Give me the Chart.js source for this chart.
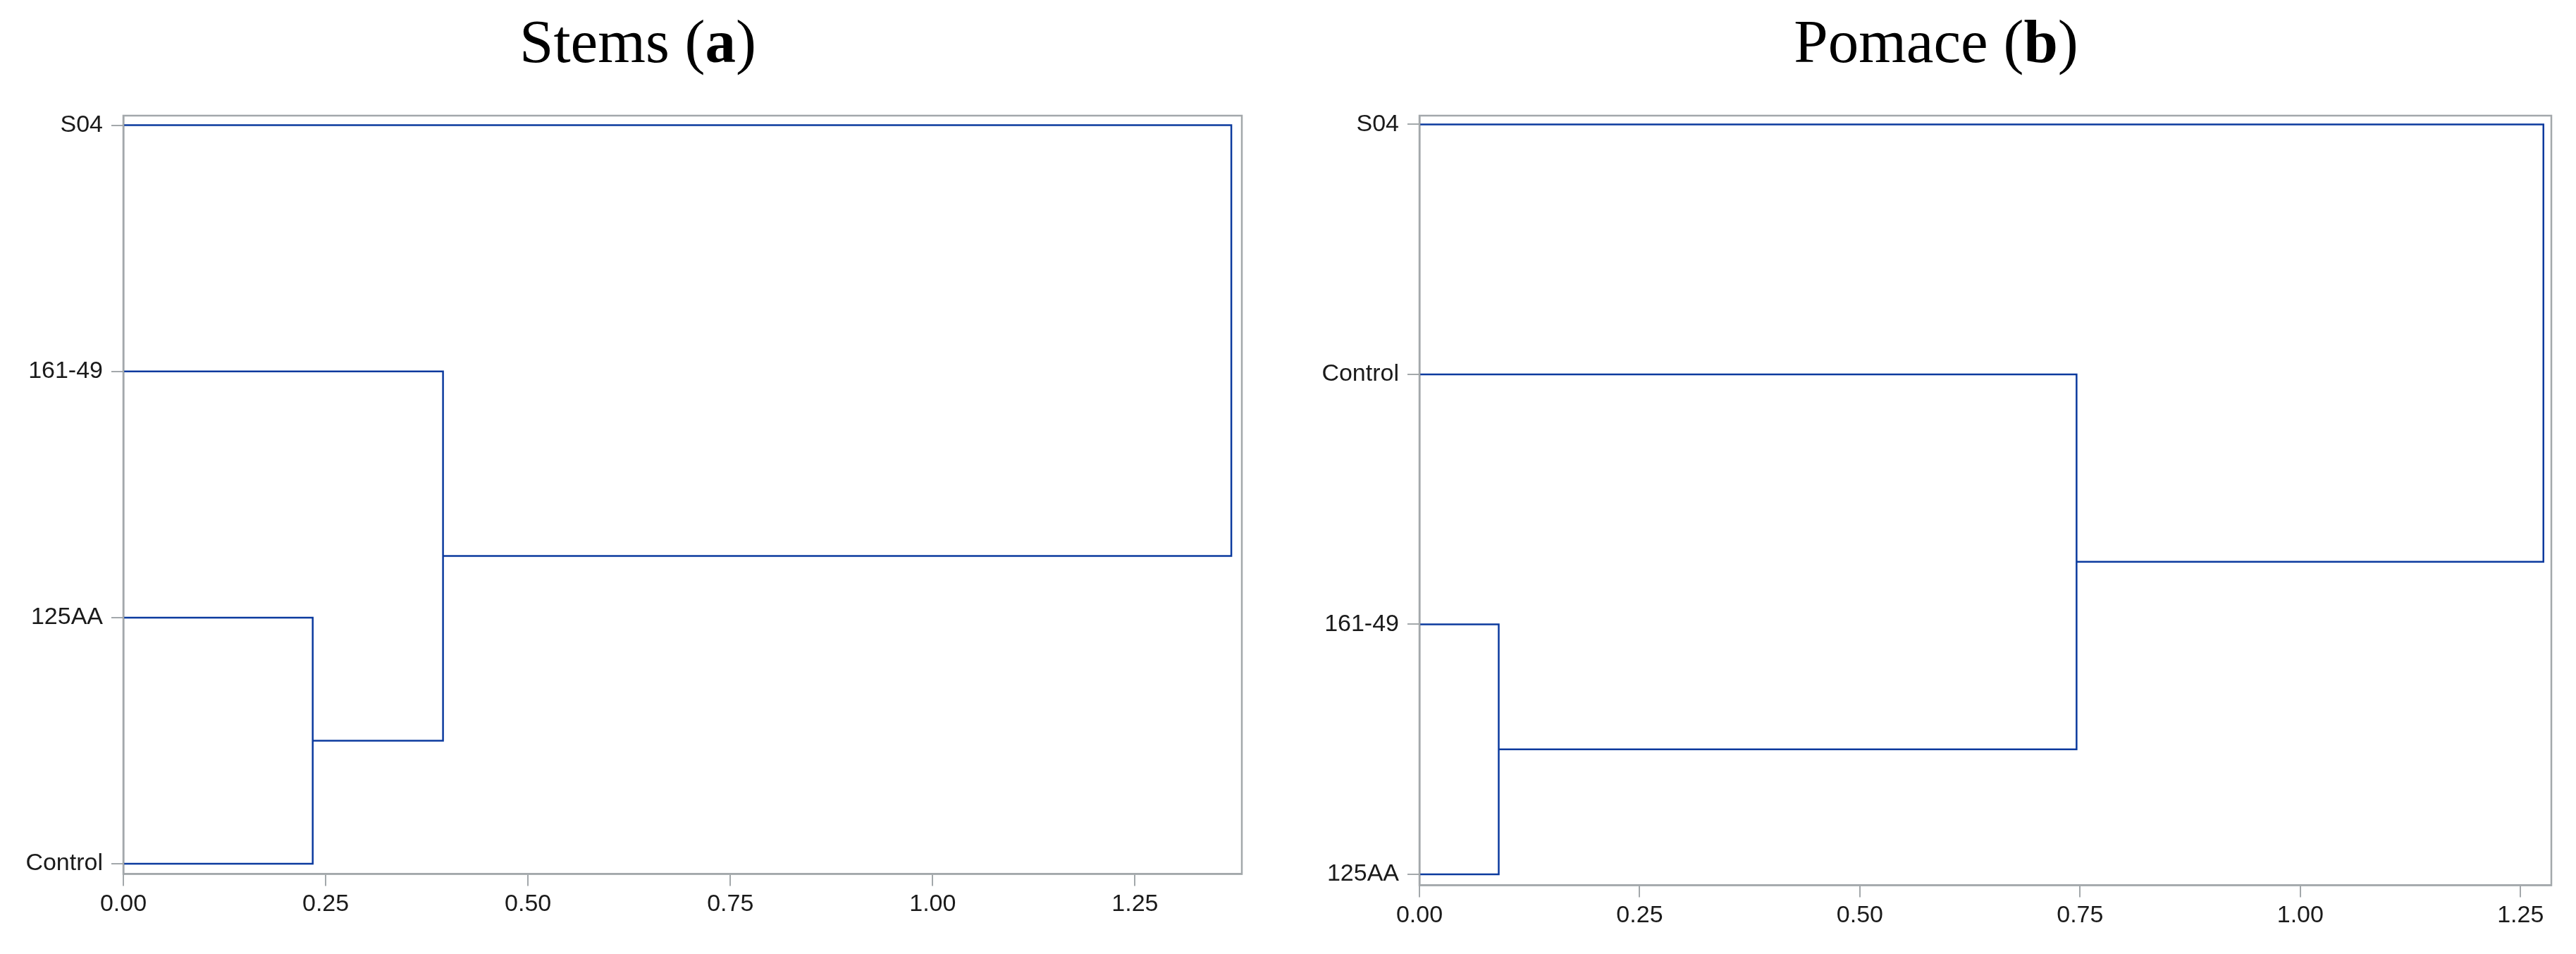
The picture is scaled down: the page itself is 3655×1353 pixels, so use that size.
<!DOCTYPE html>
<html>
<head>
<meta charset="utf-8">
<script src="https://cdn.jsdelivr.net/npm/chart.js@4.4.1/dist/chart.umd.min.js"></script>
<style>
  html, body { margin: 0; padding: 0; background: #fff; }
  body { width: 3655px; height: 1353px; position: relative; overflow: hidden; }
  .painel { position: absolute; top: 0; height: 1353px; }
</style>
</head>
<body>
<div class="painel" style="left:0;width:1810px"><canvas id="graficoStems" width="1810" height="1353"></canvas></div>
<div class="painel" style="left:1839px;width:1816px"><canvas id="graficoPomace" width="1816" height="1353"></canvas></div>
<script>
// folhas de cima para baixo
const folhasStems = ["S04", "161-49", "125AA", "Control"];
const folhasPomace = ["S04", "Control", "161-49", "125AA"];

// fusões: [grupo A, grupo B, distância]; G1, G2... são os grupos formados
const fusoesStems = [["125AA", "Control", 0.234], ["161-49", "G1", 0.395], ["S04", "G2", 1.369]];
const fusoesPomace = [["161-49", "125AA", 0.090], ["Control", "G1", 0.746], ["S04", "G2", 1.276]];

const ticksX = [0, 0.25, 0.5, 0.75, 1.0, 1.25];

const azul = "#0b3a9e";
const cinza = "#a3a8ab";

function montarDendro(folhas, fusoes) {
    const pos = {};
    folhas.forEach((f, i) => pos[f] = { x: 0, y: folhas.length - 1 - i });
    let datasets = [];
    fusoes.forEach(([a, b, altura], i) => {
        const pa = pos[a], pb = pos[b];
        datasets.push({
            data: [
                { x: pa.x, y: pa.y },
                { x: altura, y: pa.y },
                { x: altura, y: pb.y },
                { x: pb.x, y: pb.y }
            ],
            showLine: true,
            borderColor: azul,
            borderWidth: 2.5,
            pointRadius: 0,
            fill: false,
            tension: 0
        });
        pos["G" + (i + 1)] = { x: altura, y: (pa.y + pb.y) / 2 };
    });
    return datasets;
}

// título com parte em negrito, desenhado no canvas
const tituloPlugin = {
    id: "tituloPainel",
    afterDraw(chart, args, opts) {
        const ctx = chart.ctx;
        ctx.save();
        ctx.fillStyle = "#000";
        ctx.textBaseline = "alphabetic";
        let total = 0;
        opts.partes.forEach(p => {
            ctx.font = (p.negrito ? "bold " : "") + "87px 'Liberation Serif', serif";
            total += ctx.measureText(p.texto).width;
        });
        let x = opts.x - total / 2;
        opts.partes.forEach(p => {
            ctx.font = (p.negrito ? "bold " : "") + "87px 'Liberation Serif', serif";
            ctx.fillText(p.texto, x, 88);
            x += ctx.measureText(p.texto).width;
        });
        ctx.restore();
    }
};

const molduraPlugin = {
    id: "moldura",
    afterDatasetsDraw(chart) {
        const a = chart.chartArea;
        const ctx = chart.ctx;
        ctx.save();
        ctx.strokeStyle = cinza;
        ctx.lineWidth = 2.5;
        ctx.strokeRect(a.left, a.top, a.right - a.left, a.bottom - a.top);
        ctx.restore();
    }
};

function criarGrafico(id, folhas, fusoes, xMax, yMin, yMax, padBaixo, padDireita, tituloX, titulo) {
    const ctx = document.getElementById(id).getContext("2d");
    return new Chart(ctx, {
        type: "scatter",
        data: { datasets: montarDendro(folhas, fusoes) },
        plugins: [tituloPlugin, molduraPlugin],
        options: {
            responsive: false,
            animation: false,
            devicePixelRatio: 1,
            layout: { padding: { top: 164, left: 0, right: padDireita, bottom: padBaixo } },
            plugins: {
                legend: { display: false },
                tooltip: { enabled: false },
                tituloPainel: { partes: titulo, x: tituloX }
            },
            scales: {
                x: {
                    type: "linear",
                    min: 0,
                    max: xMax,
                    afterBuildTicks: s => { s.ticks = ticksX.map(v => ({ value: v })); },
                    afterFit: s => { s.height = 60; },
                    ticks: {
                        callback: v => v.toFixed(2),
                        font: { family: "'Liberation Sans', Arial, sans-serif", size: 34 },
                        color: "#1a1a1a",
                        padding: 6,
                        maxRotation: 0
                    },
                    grid: { drawOnChartArea: false, drawTicks: true, tickLength: 17, color: cinza, lineWidth: 2 },
                    border: { display: true, color: cinza, width: 2.5 }
                },
                y: {
                    type: "linear",
                    min: yMin,
                    max: yMax,
                    afterBuildTicks: s => { s.ticks = folhas.map((_, i) => ({ value: i })); },
                    afterFit: s => { s.width = 175; },
                    ticks: {
                        callback: v => folhas[folhas.length - 1 - v],
                        font: { family: "'Liberation Sans', Arial, sans-serif", size: 34 },
                        color: "#1a1a1a",
                        padding: 12
                    },
                    grid: { drawOnChartArea: false, drawTicks: true, tickLength: 17, color: cinza, lineWidth: 2 },
                    border: { display: true, color: cinza, width: 2.5 }
                }
            }
        }
    });
}

criarGrafico("graficoStems", folhasStems, fusoesStems, 1.382, -0.0415, 3.039, 1353 - 1239.5 - 60, 48, 905,
    [{ texto: "Stems (" }, { texto: "a", negrito: true }, { texto: ")" }]);
criarGrafico("graficoPomace", folhasPomace, fusoesPomace, 1.285, -0.044, 3.035, 1353 - 1255.5 - 60, 35, 908,
    [{ texto: "Pomace (" }, { texto: "b", negrito: true }, { texto: ")" }]);
</script>
</body>
</html>
